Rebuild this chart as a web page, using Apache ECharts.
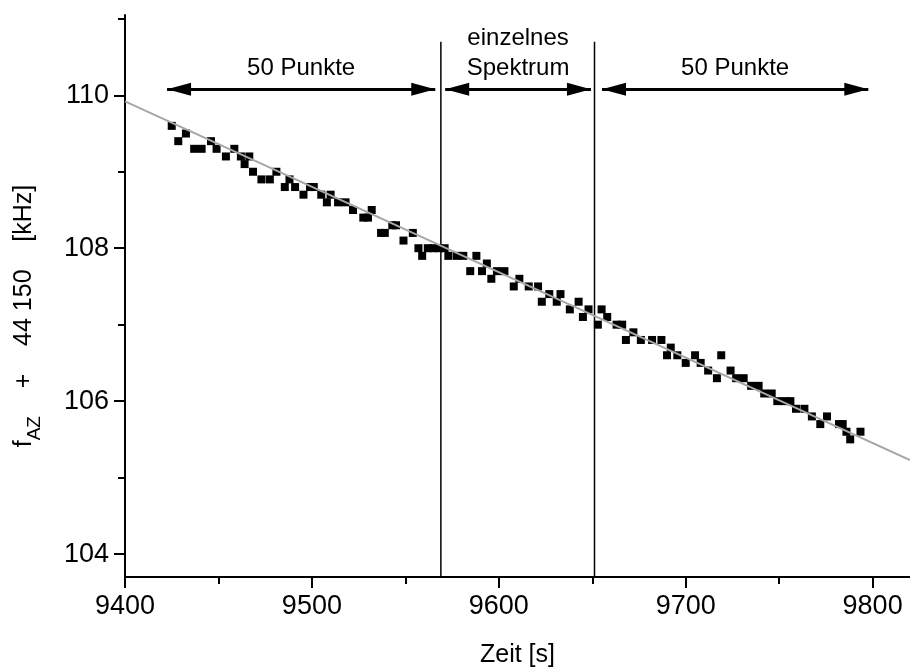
<!DOCTYPE html>
<html>
<head>
<meta charset="utf-8">
<script src="https://cdn.jsdelivr.net/npm/echarts@6/dist/echarts.min.js"></script>
<style>html,body{margin:0;padding:0;background:#fff;}#c{width:910px;height:671px;}</style>
</head>
<body>
<div id="c"></div>
<script>
// time [s], frequency offset [kHz]
const times = [9425,9428.5,9432.6,9437,9441,9446,9449,9454,9458.5,9462,9464,9466.5,9468.5,9473,9477.5,9481,9485.5,9488,9491,9495.5,9499,9501,9505,9508,9510,9514,9518,9522,9527.5,9530,9532,9537,9539,9543,9545,9549,9554,9557,9559,9562,9565,9568,
 9571,9573,9577.5,9581,9584.7,9588,9591,9593.6,9596,9599,9603,9608,9611,9616,9621,9623,9627,9631,9633,9638,9642.7,9645,9648,
 9653,9655,9658,9663,9666,9668,9672,9676,9682,9687,9690,9692,9695.5,9700,9705,9708,9712,9716.7,9719,9724,9727,9731,9735,9739,9742,9746,9749,9753,9756,9759,9763.5,9767.5,9772,9775.6,9782,9784,9786,9788,9793.5];
const freqs = [109.6,109.4,109.5,109.3,109.3,109.4,109.3,109.2,109.3,109.2,109.1,109.2,109.0,108.9,108.9,109.0,108.8,108.9,108.8,108.7,108.8,108.8,108.7,108.6,108.7,108.6,108.6,108.5,108.4,108.4,108.5,108.2,108.2,108.3,108.3,108.1,108.2,108.0,107.9,108.0,108.0,108.0,
 108.0,107.9,107.9,107.9,107.7,107.9,107.7,107.8,107.6,107.7,107.7,107.5,107.6,107.5,107.5,107.3,107.4,107.3,107.4,107.2,107.3,107.1,107.2,
 107.0,107.2,107.1,107.0,107.0,106.8,106.9,106.8,106.8,106.8,106.6,106.7,106.6,106.5,106.6,106.5,106.4,106.3,106.6,106.4,106.3,106.3,106.2,106.2,106.1,106.1,106.0,106.0,106.0,105.9,105.9,105.8,105.7,105.8,105.7,105.7,105.6,105.5,105.6];
const fitLine = [[9400,109.92],[9820,105.23]];
const dividers = [9569, 9651.2];
const dividerTop = 110.70;
const arrowY = 110.08;
const arrows = [
  {from: 9422.5, to: 9566, text: '50 Punkte'},
  {from: 9571.3, to: 9649.3, text: 'einzelnes\nSpektrum'},
  {from: 9655.2, to: 9797.7, text: '50 Punkte'}
];
const xMajor = [9400,9500,9600,9700,9800];
const xMinor = [9450,9550,9650,9750];
const yMajor = [104,106,108,110];
const yMinor = [105,107,109,111];
const xRange = [9400, 9820];
const yRange = [103.7, 111.05];

const FONT = 'Liberation Sans, Arial, sans-serif';
const chart = echarts.init(document.getElementById('c'));

const pts = times.map((t,i)=>[t,freqs[i]]);
const ARROW_LEN = 24;

const series = [
  {type:'scatter', data: pts, symbol:'rect', symbolSize:8, itemStyle:{color:'#000', opacity:1}, z:3, silent:true},
  {type:'line', data: fitLine, symbol:'none', lineStyle:{color:'#a6a6a6', width:2}, z:4, silent:true}
];
dividers.forEach(d=>{
  series.push({type:'line', data:[[d,yRange[0]],[d,dividerTop]], symbol:'none', lineStyle:{color:'#000', width:1.5}, z:2, silent:true});
});
series.push({
  type:'line', data:[], silent:true,
  markLine:{
    silent:true,
    symbol:['triangle','triangle'],
    symbolSize:[13,ARROW_LEN],
    symbolOffset:[[0,ARROW_LEN/2],[0,ARROW_LEN/2]],
    lineStyle:{color:'#000', width:3, type:'solid'},
    label:{show:true, position:'insideMiddleTop', distance:6, color:'#000', fontSize:24, fontFamily:FONT, lineHeight:30},
    data: arrows.map(a=>[{coord:[a.from, arrowY], label:{formatter:a.text}},{coord:[a.to, arrowY]}])
  }
});

const plainNum = v => String(v);

chart.setOption({
  animation:false,
  backgroundColor:'#fff',
  grid:{left:125, right:0, top:15, bottom:94, containLabel:false, outerBoundsMode:'none'},
  xAxis:[{
    type:'value', min:xRange[0], max:xRange[1],
    name:'Zeit [s]', nameLocation:'middle', nameGap:66,
    nameTextStyle:{color:'#000', fontSize:25, fontFamily:FONT},
    axisLine:{show:true, onZero:false, lineStyle:{color:'#000', width:2}},
    axisTick:{show:true, customValues:xMajor, length:11, lineStyle:{color:'#000', width:2}},
    axisLabel:{customValues:xMajor, formatter:plainNum, color:'#000', fontSize:27, fontFamily:FONT, margin:16},
    splitLine:{show:false}
  },{
    type:'value', min:xRange[0], max:xRange[1], position:'bottom',
    axisLine:{show:false}, axisLabel:{show:false}, splitLine:{show:false},
    axisTick:{show:true, customValues:xMinor, length:7, lineStyle:{color:'#000', width:2}}
  }],
  yAxis:[{
    type:'value', min:yRange[0], max:yRange[1],
    name:'{f|f}{s|AZ}{f|    +    44 150    [kHz]}', nameLocation:'middle', nameGap:83,
    nameTextStyle:{color:'#000', fontFamily:FONT, padding:[0,40,0,0], rich:{
      f:{fontSize:25, fontFamily:FONT, color:'#000', lineHeight:36, verticalAlign:'middle'},
      s:{fontSize:19, fontFamily:FONT, color:'#000', lineHeight:36, verticalAlign:'bottom', padding:[0,0,-2,0]}
    }},
    axisLine:{show:true, onZero:false, lineStyle:{color:'#000', width:2}},
    axisTick:{show:true, customValues:yMajor, length:11, lineStyle:{color:'#000', width:2}},
    axisLabel:{customValues:yMajor, formatter:plainNum, color:'#000', fontSize:27, fontFamily:FONT, margin:16},
    splitLine:{show:false}
  },{
    type:'value', min:yRange[0], max:yRange[1], position:'left',
    axisLine:{show:false}, axisLabel:{show:false}, splitLine:{show:false},
    axisTick:{show:true, customValues:yMinor, length:7, lineStyle:{color:'#000', width:2}}
  }],
  series: series
});
</script>
</body>
</html>
